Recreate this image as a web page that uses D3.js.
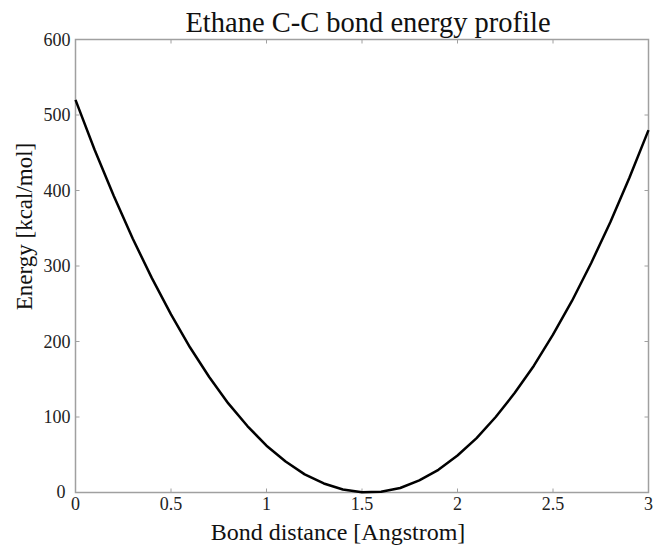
<!DOCTYPE html>
<html>
<head>
<meta charset="utf-8">
<script src="https://cdn.jsdelivr.net/npm/d3@7"></script>
<style>
  body { margin: 0; background: #fff; }
  text { font-family: "Liberation Serif", "DejaVu Serif", serif; }
</style>
</head>
<body>
<svg></svg>
<script>
const svg = d3.select('svg')
    .attr('width', 656)
    .attr('height', 551);

// bond distance (Angstrom) and energy (kcal/mol)
const distance = [0, 0.1, 0.2, 0.3, 0.4, 0.5, 0.6, 0.7, 0.8, 0.9, 1.0, 1.1, 1.2, 1.3, 1.4, 1.5,
    1.6, 1.7, 1.8, 1.9, 2.0, 2.1, 2.2, 2.3, 2.4, 2.5, 2.6, 2.7, 2.8, 2.9, 3.0];
const energy = [520, 454, 393, 336, 284, 236, 192, 153, 118, 88, 62, 41, 24, 12, 4, 0.2,
    1, 6, 16, 30, 49, 72, 100, 132, 168, 209, 254, 304, 358, 417, 480];
const xTicks = [0, 0.5, 1, 1.5, 2, 2.5, 3];
const yTicks = [0, 100, 200, 300, 400, 500, 600];

const plotL = 75.5, plotR = 648.5, plotT = 39.5, plotB = 492.5;

const x = d3.scaleLinear().domain([0, 3]).range([plotL, plotR]);
const y = d3.scaleLinear().domain([0, 600]).range([plotB, plotT]);

const axisColor = '#a0a0a0';

// frame
svg.append('rect')
    .attr('x', plotL)
    .attr('y', plotT)
    .attr('width', plotR - plotL)
    .attr('height', plotB - plotT)
    .attr('fill', 'none')
    .attr('stroke', axisColor)
    .attr('stroke-width', 1.5);

// inward ticks on all four sides
const tickLen = 4;
svg.selectAll('.xtick-b')
    .data(xTicks.slice(1, -1))
    .enter()
    .append('line')
    .attr('x1', d => x(d)).attr('x2', d => x(d))
    .attr('y1', plotB).attr('y2', plotB - tickLen)
    .attr('stroke', axisColor);
svg.selectAll('.xtick-t')
    .data(xTicks.slice(1, -1))
    .enter()
    .append('line')
    .attr('x1', d => x(d)).attr('x2', d => x(d))
    .attr('y1', plotT).attr('y2', plotT + tickLen)
    .attr('stroke', axisColor);
svg.selectAll('.ytick-l')
    .data(yTicks.slice(1, -1))
    .enter()
    .append('line')
    .attr('x1', plotL).attr('x2', plotL + tickLen)
    .attr('y1', d => y(d)).attr('y2', d => y(d))
    .attr('stroke', axisColor);
svg.selectAll('.ytick-r')
    .data(yTicks.slice(1, -1))
    .enter()
    .append('line')
    .attr('x1', plotR).attr('x2', plotR - tickLen)
    .attr('y1', d => y(d)).attr('y2', d => y(d))
    .attr('stroke', axisColor);

// tick labels
svg.selectAll('.x-label')
    .data(xTicks)
    .enter()
    .append('text')
    .attr('x', d => x(d))
    .attr('y', plotB + 17)
    .attr('text-anchor', 'middle')
    .style('font-size', '18px')
    .attr('fill', '#222')
    .text(d => d);

svg.selectAll('.y-label')
    .data(yTicks)
    .enter()
    .append('text')
    .attr('x', d => d === 0 ? plotL - 10 : plotL - 5)
    .attr('y', d => d === 0 ? y(d) + 5 : y(d) + 6)
    .attr('text-anchor', 'end')
    .style('font-size', '18px')
    .attr('fill', '#222')
    .text(d => d);

// curve
const line = d3.line()
    .x((d, i) => x(distance[i]))
    .y(d => y(d));

svg.append('path')
    .datum(energy)
    .attr('d', line)
    .attr('fill', 'none')
    .attr('stroke', '#000')
    .attr('stroke-width', 2.5)
    .attr('stroke-linejoin', 'round');

// titles
svg.append('text')
    .attr('x', 368)
    .attr('y', 32)
    .attr('text-anchor', 'middle')
    .style('font-size', '28.5px')
    .attr('fill', '#111')
    .text('Ethane C-C bond energy profile');

svg.append('text')
    .attr('x', 338)
    .attr('y', 540)
    .attr('text-anchor', 'middle')
    .style('font-size', '24px')
    .attr('fill', '#111')
    .text('Bond distance [Angstrom]');

svg.append('text')
    .attr('transform', 'translate(32, 226.5) rotate(-90)')
    .attr('text-anchor', 'middle')
    .style('font-size', '23px')
    .attr('fill', '#111')
    .text('Energy [kcal/mol]');
</script>
</body>
</html>
